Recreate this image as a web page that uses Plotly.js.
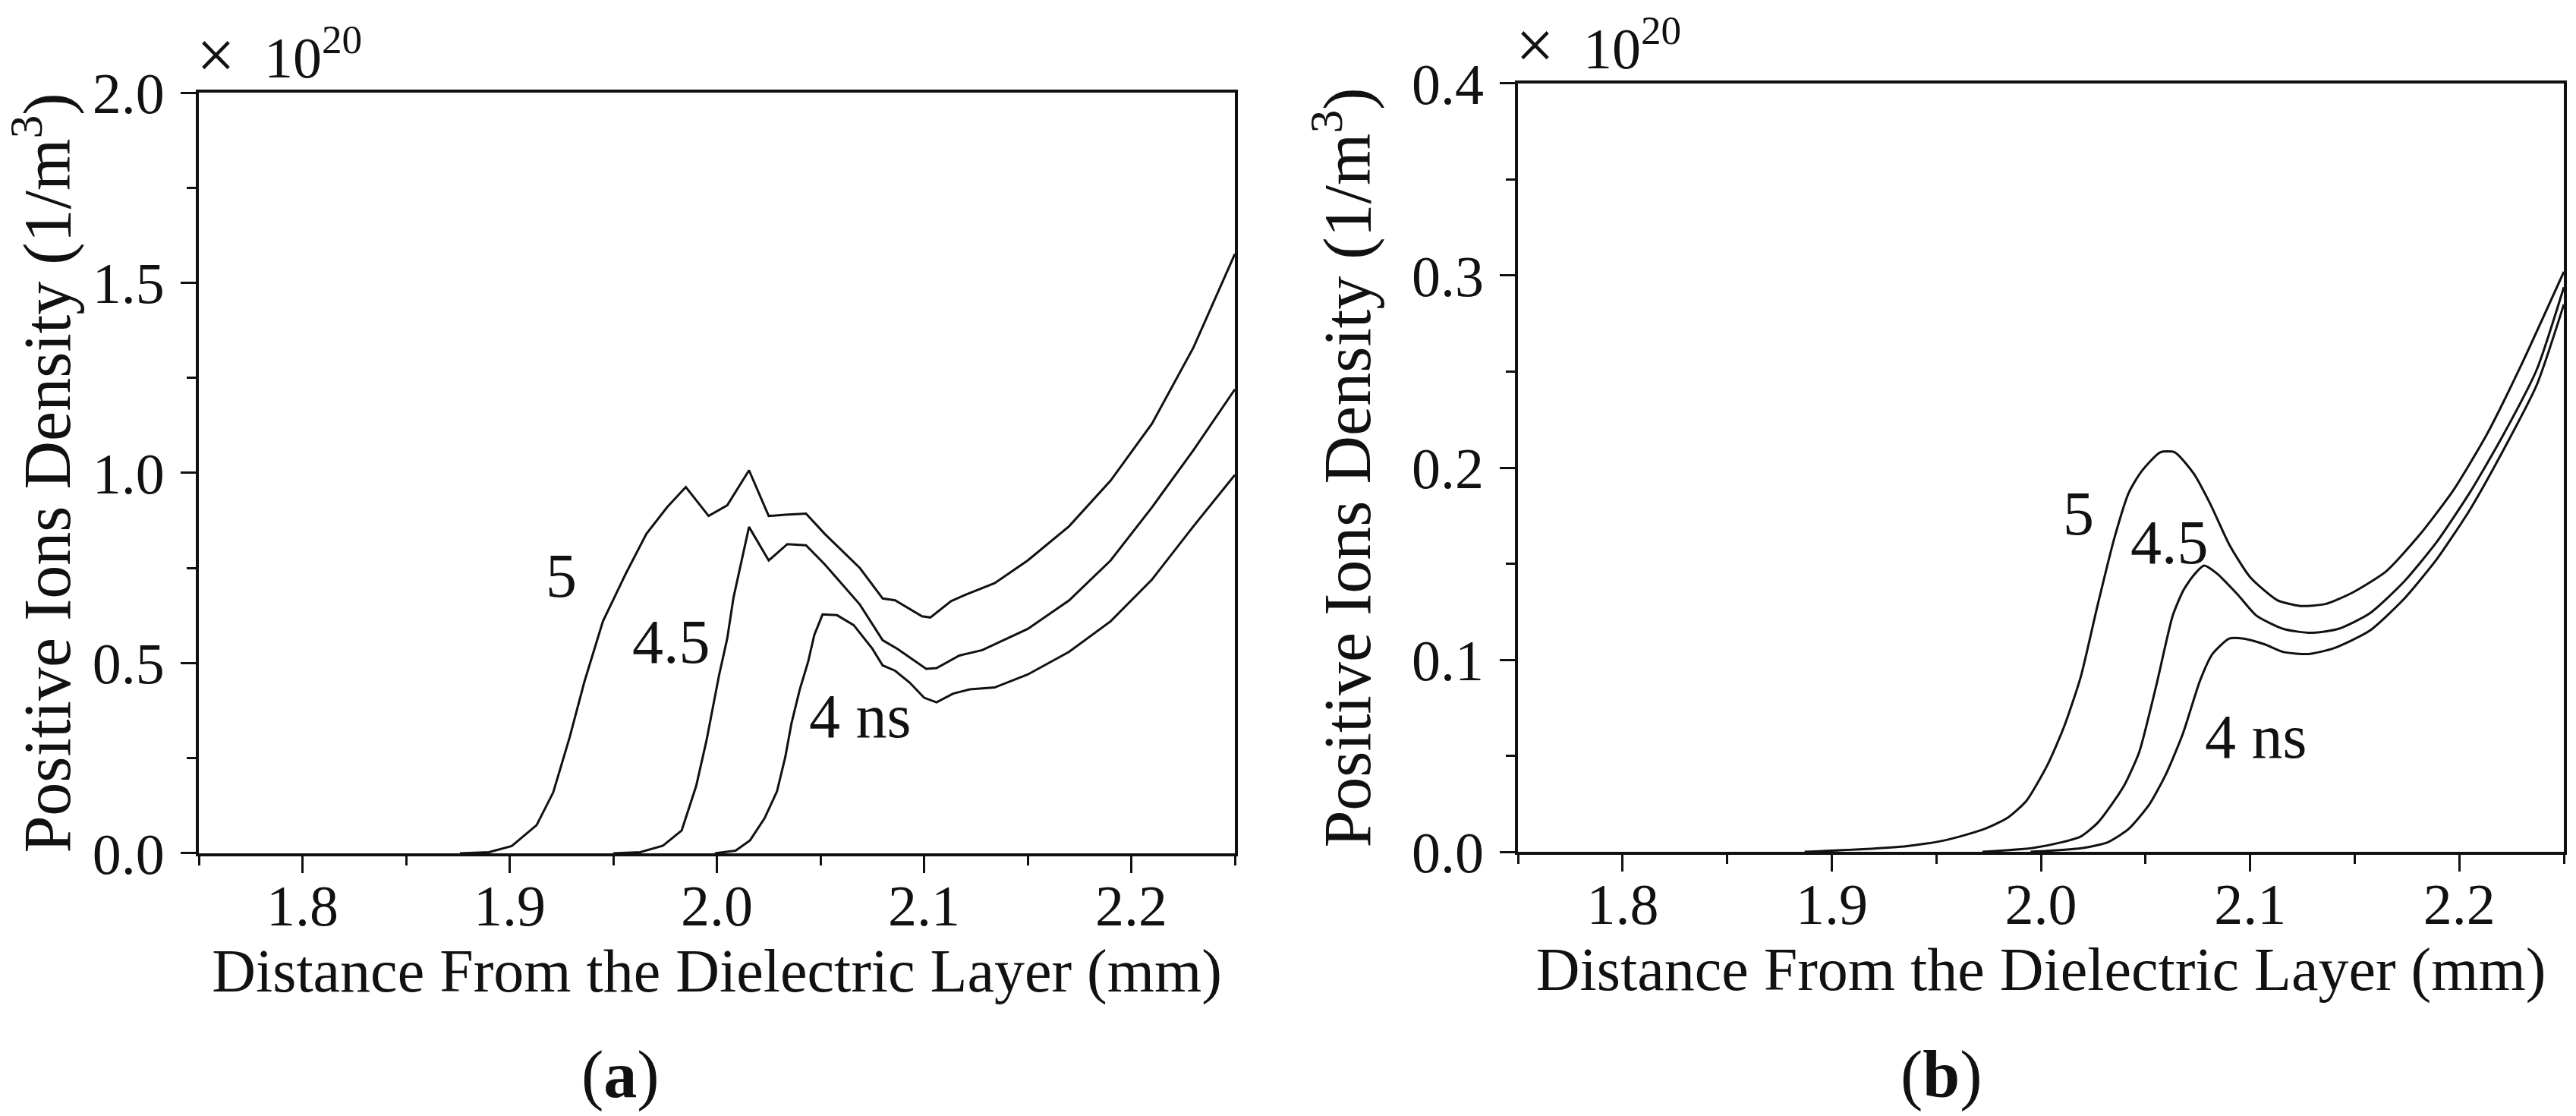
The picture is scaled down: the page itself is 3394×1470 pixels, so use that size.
<!DOCTYPE html>
<html><head><meta charset="utf-8">
<script src="https://cdn.plot.ly/plotly-3.0.1.min.js"></script>
<style>html,body{margin:0;padding:0;background:#fff}#chart{width:3394px;height:1470px}</style>
</head><body><div id="chart"></div>
<script>
// Panel (a): positive ion density (x 1e20 1/m^3) vs distance (mm)
const xA5  = [1.876,1.890,1.901,1.913,1.921,1.929,1.936,1.945,1.956,1.966,1.976,1.985,1.996,2.005,2.0155,2.025,2.033,2.043,2.052,2.069,2.080,2.086,2.099,2.103,2.113,2.120,2.134,2.150,2.170,2.190,2.210,2.230,2.25];
const yA5  = [0,0.003,0.019,0.074,0.16,0.306,0.45,0.61,0.735,0.84,0.91,0.963,0.887,0.915,1.007,0.887,0.89,0.893,0.84,0.75,0.67,0.665,0.623,0.62,0.663,0.68,0.71,0.77,0.86,0.98,1.13,1.33,1.576];
const xA45 = [1.950,1.963,1.974,1.983,1.990,1.995,2.001,2.005,2.008,2.0155,2.025,2.034,2.043,2.052,2.069,2.080,2.087,2.096,2.101,2.106,2.117,2.128,2.150,2.170,2.190,2.210,2.230,2.25];
const yA45 = [0,0.003,0.02,0.06,0.177,0.297,0.467,0.565,0.672,0.858,0.77,0.813,0.81,0.76,0.654,0.56,0.538,0.503,0.485,0.487,0.52,0.534,0.59,0.665,0.77,0.91,1.06,1.22];
const xA4  = [1.999,2.009,2.016,2.023,2.029,2.033,2.036,2.040,2.044,2.047,2.051,2.058,2.066,2.075,2.080,2.086,2.093,2.100,2.106,2.114,2.122,2.134,2.150,2.170,2.190,2.210,2.230,2.25];
const yA4  = [0,0.007,0.034,0.092,0.163,0.253,0.342,0.431,0.503,0.574,0.628,0.626,0.6,0.538,0.494,0.48,0.449,0.409,0.397,0.42,0.431,0.436,0.47,0.53,0.61,0.72,0.86,0.995];

// Panel (b)
const xB5  = [1.887,1.915,1.936,1.954,1.972,1.984,1.993,2.003,2.011,2.019,2.027,2.035,2.042,2.048,2.057,2.064,2.073,2.081,2.090,2.100,2.113,2.124,2.136,2.149,2.165,2.181,2.197,2.213,2.229,2.25];
const yB5  = [0,0.0014,0.003,0.006,0.0115,0.0177,0.0265,0.045,0.065,0.091,0.128,0.163,0.187,0.198,0.208,0.208,0.197,0.181,0.16,0.143,0.131,0.128,0.129,0.135,0.146,0.165,0.188,0.217,0.252,0.302];
const xB45 = [1.972,1.996,2.010,2.019,2.027,2.034,2.040,2.047,2.055,2.063,2.068,2.073,2.078,2.084,2.094,2.103,2.116,2.129,2.142,2.157,2.173,2.189,2.205,2.221,2.237,2.25];
const yB45 = [0,0.002,0.005,0.008,0.015,0.025,0.035,0.052,0.086,0.123,0.136,0.144,0.149,0.145,0.134,0.123,0.116,0.114,0.116,0.124,0.14,0.161,0.187,0.217,0.251,0.294];
const xB4  = [1.995,2.003,2.020,2.032,2.042,2.052,2.060,2.068,2.076,2.082,2.090,2.097,2.107,2.116,2.128,2.140,2.157,2.173,2.189,2.205,2.221,2.237,2.25];
const yB4  = [0,0.0005,0.002,0.005,0.012,0.025,0.041,0.062,0.089,0.103,0.111,0.111,0.108,0.104,0.103,0.106,0.115,0.131,0.152,0.178,0.209,0.243,0.285];

// Curve labels
const labelTexts = ['5','4.5','4 ns'];
const labelXA = [1.925,1.978,2.069];
const labelYA = [0.73,0.555,0.36];
const labelXB = [2.018,2.0615,2.1025];
const labelYB = [0.176,0.161,0.06];

const xTicks = [1.8,1.9,2.0,2.1,2.2];
const xTitle = 'Distance From the Dielectric Layer (mm)';
const yTitle = 'Positive Ions Density (1/m<sup>3</sup>)';
const panelLabels = ['(<b>a</b>)','(<b>b</b>)'];

const FONT = 'Liberation Serif, Times New Roman, serif';
const INK = '#111';
const line = {color: INK, width: 3};

const traces = [
  {x:xA5, y:yA5, xaxis:'x', yaxis:'y', mode:'lines', line:line, name:'5 ns'},
  {x:xA45,y:yA45,xaxis:'x', yaxis:'y', mode:'lines', line:line, name:'4.5 ns'},
  {x:xA4, y:yA4, xaxis:'x', yaxis:'y', mode:'lines', line:line, name:'4 ns'},
  {x:xB5, y:yB5, xaxis:'x2',yaxis:'y2',mode:'lines', line:Object.assign({shape:'spline',smoothing:0.6},line), name:'5 ns'},
  {x:xB45,y:yB45,xaxis:'x2',yaxis:'y2',mode:'lines', line:Object.assign({shape:'spline',smoothing:0.6},line), name:'4.5 ns'},
  {x:xB4, y:yB4, xaxis:'x2',yaxis:'y2',mode:'lines', line:Object.assign({shape:'spline',smoothing:0.6},line), name:'4 ns'}
];

function xAx(domain, anchor){
  return {domain:domain, anchor:anchor, range:[1.75,2.25], tickvals:xTicks, tickformat:'.1f',
    ticks:'outside', ticklen:22, tickwidth:3, tickcolor:INK, showline:true, linewidth:4, linecolor:INK,
    mirror:true, showgrid:false, zeroline:false, tickfont:{size:76, color:INK}, ticklabelstandoff:-22,
    minor:{tickvals:[1.75,1.85,1.95,2.05,2.15,2.25], ticks:'outside', ticklen:12, tickwidth:3, tickcolor:INK, showgrid:false},
    title:{text:xTitle, font:{size:80, color:INK}, standoff:8}};
}
function yAx(domain, anchor, range, dtick){
  return {domain:domain, anchor:anchor, range:range, dtick:dtick, tick0:0, tickformat:'.1f',
    ticks:'outside', ticklen:20, tickwidth:3, tickcolor:INK, showline:true, linewidth:4, linecolor:INK,
    mirror:true, showgrid:false, zeroline:false, tickfont:{size:76, color:INK}, ticklabelstandoff:6,
    minor:{dtick:dtick/2, tick0:0, ticks:'outside', ticklen:12, tickwidth:3, tickcolor:INK, showgrid:false},
    title:{text:yTitle, font:{size:88, color:INK}, standoff:26}};
}

const annotations = [];
labelTexts.forEach((t,i)=>{
  annotations.push({x:labelXA[i], y:labelYA[i], xref:'x', yref:'y', xanchor:'center', yanchor:'middle', text:t, showarrow:false, font:{size:82, color:INK}});
  annotations.push({x:labelXB[i], y:labelYB[i], xref:'x2', yref:'y2', xanchor:'center', yanchor:'middle', text:t, showarrow:false, font:{size:82, color:INK}});
});
[['x','y'],['x2','y2']].forEach(([xa,ya])=>{
  annotations.push({x:0, y:1, xref:xa+' domain', yref:ya+' domain', xanchor:'center', yanchor:'middle',
    xshift:22, yshift:50, text:'×', showarrow:false, font:{size:90, color:INK}});
  annotations.push({x:0, y:1, xref:xa+' domain', yref:ya+' domain', xanchor:'left', yanchor:'bottom',
    xshift:84, yshift:2, text:'10<sup>20</sup>', showarrow:false, font:{size:76, color:INK}});
});
annotations.push({x:0.241, y:0.037, xref:'paper', yref:'paper', xanchor:'center', yanchor:'middle', text:panelLabels[0], showarrow:false, font:{size:88, color:INK}});
annotations.push({x:0.7537, y:0.037, xref:'paper', yref:'paper', xanchor:'center', yanchor:'middle', text:panelLabels[1], showarrow:false, font:{size:88, color:INK}});

const layout = {
  width:3394, height:1470, margin:{l:0,r:0,t:0,b:0}, paper_bgcolor:'#fff', plot_bgcolor:'#fff',
  font:{family:FONT, color:INK}, showlegend:false,
  xaxis: xAx([0.0772,0.4794],'y'),
  yaxis: yAx([0.2354,0.917],'x',[0,2.0],0.5),
  xaxis2: xAx([0.5893,0.9953],'y2'),
  yaxis2: yAx([0.2367,0.9252],'x2',[0,0.4],0.1),
  annotations: annotations
};
Plotly.newPlot('chart', traces, layout, {staticPlot:true});
</script></body></html>
